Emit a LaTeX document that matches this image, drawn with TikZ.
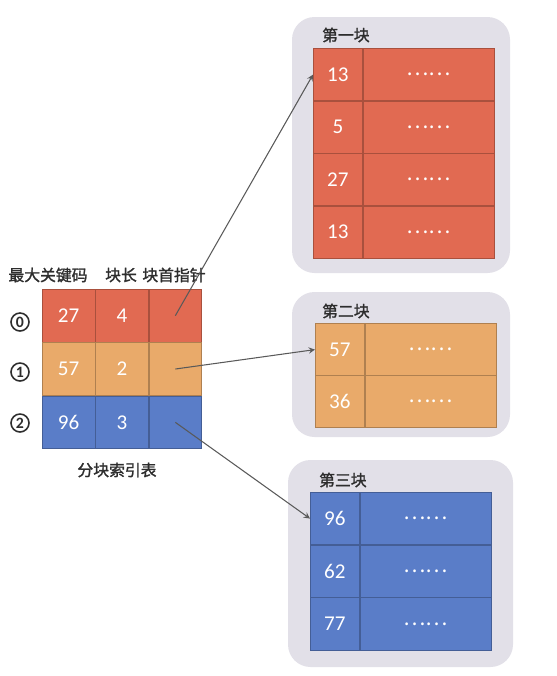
\documentclass[tikz,border=0pt]{standalone}
\usepackage{fontspec}
\setsansfont{Carlito}
\newfontfamily\cjk[FakeBold=1.5]{Noto Sans CJK SC}
\newfontfamily\cjkdots{Noto Sans CJK SC}
\usetikzlibrary{positioning}

\definecolor{redcell}{RGB}{225,106,82}
\definecolor{orangecell}{RGB}{233,170,106}
\definecolor{bluecell}{RGB}{90,125,200}
\definecolor{panel}{RGB}{226,224,232}
\definecolor{labeltext}{RGB}{45,45,45}

\tikzset{
  cell/.style={draw=#1!75!black, fill=#1, text=white, minimum width=1.053cm,
    minimum height=1.053cm, inner sep=0pt, font=\sffamily\large},
  keycell/.style={draw=#1!75!black, fill=#1, text=white, minimum width=0.98cm,
    minimum height=1.05cm, inner sep=0pt, font=\sffamily\large},
  restcell/.style={draw=#1!75!black, fill=#1, text=white, minimum width=2.62cm,
    minimum height=1.05cm, inner sep=0pt, font=\cjkdots\large},
  panelbox/.style={fill=panel, rounded corners=0.45cm},
  heading/.style={text=labeltext, font=\cjk\small},
  rowno/.style={circle, draw=labeltext, line width=0.9pt, text=labeltext,
    minimum size=0.36cm, inner sep=0pt, font=\sffamily\small\bfseries},
  ptr/.style={->, >=stealth, gray!70!black, semithick},
}

\begin{document}
\begin{tikzpicture}[x=0.02cm, y=-0.02cm]
  \useasboundingbox (0,0) rectangle (557,676);

  % panels
  \fill[panelbox] (292,17) rectangle (510,273);
  \fill[panelbox] (292,292) rectangle (510,437);
  \fill[panelbox] (288,460) rectangle (513,667);

  % index table
  \node [heading] (hkey) at (48,275) {最大关键码};
  \node [heading] (hlen) at (121,275) {块长};
  \node [heading] (hptr) at (174,275) {块首指针};

  \node [cell=redcell, anchor=north west] (k0) at (42,289) {27};
  \node [cell=redcell, right=0pt of k0] (l0) {4};
  \node [cell=redcell, right=0pt of l0] (p0) {};
  \node [cell=orangecell, below=0pt of k0] (k1) {57};
  \node [cell=orangecell, right=0pt of k1] (l1) {2};
  \node [cell=orangecell, right=0pt of l1] (p1) {};
  \node [cell=bluecell, below=0pt of k1] (k2) {96};
  \node [cell=bluecell, right=0pt of k2] (l2) {3};
  \node [cell=bluecell, right=0pt of l2] (p2) {};

  \node [rowno] (n0) at (20,322) {0};
  \node [rowno] (n1) at (20,372) {1};
  \node [rowno] (n2) at (20,423) {2};

  \node [heading] (idxname) at (117,470) {分块索引表};

  % blocks
  \node [heading, anchor=west] (t1) at (316,35) {第一块};
  \foreach \v [count=\i] in {13,5,27,13} {
    \node [keycell=redcell, anchor=north west] (b1k\i) at (313,{48+52.5*(\i-1)}) {\v};
    \node [restcell=redcell, right=0pt of b1k\i] (b1r\i) {……};
  }

  \node [heading, anchor=west] (t2) at (316,311) {第二块};
  \foreach \v [count=\i] in {57,36} {
    \node [keycell=orangecell, anchor=north west] (b2k\i) at (315,{323+52*(\i-1)}) {\v};
    \node [restcell=orangecell, right=0pt of b2k\i] (b2r\i) {……};
  }

  \node [heading, anchor=west] (t3) at (313,480) {第三块};
  \foreach \v [count=\i] in {96,62,77} {
    \node [keycell=bluecell, anchor=north west] (b3k\i) at (310,{492+52.7*(\i-1)}) {\v};
    \node [restcell=bluecell, right=0pt of b3k\i] (b3r\i) {……};
  }

  % pointers
  \draw [ptr] (p0.center) -- (b1k1.west);
  \draw [ptr] (p1.center) -- (b2k1.west);
  \draw [ptr] (p2.center) -- (b3k1.west);
\end{tikzpicture}
\end{document}
